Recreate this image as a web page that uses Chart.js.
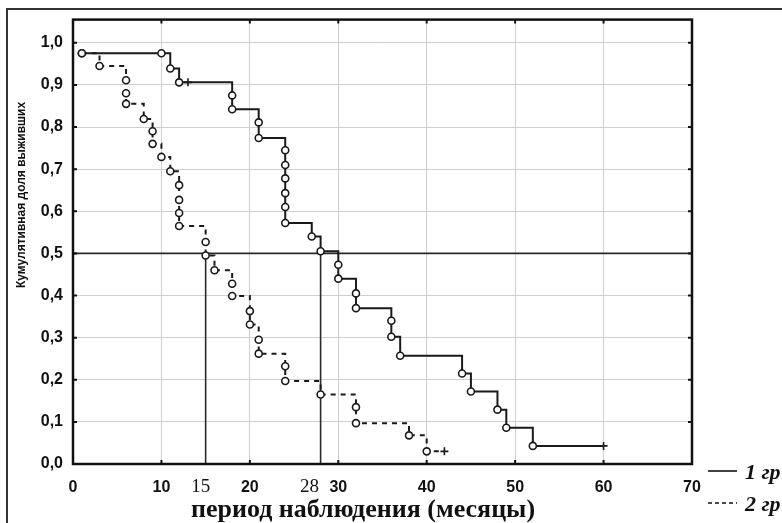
<!DOCTYPE html>
<html>
<head>
<meta charset="utf-8">
<script src="https://cdn.jsdelivr.net/npm/chart.js@4"></script>
<style>
  body { margin: 0; background: #fff; }
</style>
</head>
<body>
<canvas id="myChart" width="782" height="523"></canvas>
<script>
// группа 1 (сплошная линия)
const months1 = [1, 10, 11, 12, 13, 18, 18, 21, 21, 24, 24, 24, 24, 24, 24, 27, 28, 30, 30, 32, 32, 36, 36, 37, 44, 45, 48, 49, 52, 60]
const surv1 = [0.975, 0.975, 0.939, 0.906, 0.906, 0.875, 0.842, 0.811, 0.774, 0.745, 0.710, 0.678, 0.643, 0.610, 0.572, 0.540, 0.505, 0.473, 0.440, 0.405, 0.370, 0.340, 0.302, 0.257, 0.215, 0.172, 0.129, 0.086, 0.043, 0.043]
const cens1 = [0, 0, 0, 0, 1, 0, 0, 0, 0, 0, 0, 0, 0, 0, 0, 0, 0, 0, 0, 0, 0, 0, 0, 0, 0, 0, 0, 0, 0, 1]

// группа 2 (пунктир)
const months2 = [1, 3, 6, 6, 6, 8, 9, 9, 10, 11, 12, 12, 12, 12, 15, 15, 16, 18, 18, 20, 20, 21, 21, 24, 24, 28, 32, 32, 38, 40, 42]
const surv2 = [0.975, 0.945, 0.911, 0.880, 0.855, 0.819, 0.790, 0.760, 0.729, 0.695, 0.662, 0.627, 0.596, 0.565, 0.527, 0.495, 0.460, 0.428, 0.399, 0.363, 0.331, 0.295, 0.262, 0.232, 0.197, 0.165, 0.135, 0.097, 0.068, 0.030, 0.030]
const cens2 = [0, 0, 0, 0, 0, 0, 0, 0, 0, 0, 0, 0, 0, 0, 0, 0, 0, 0, 0, 0, 0, 0, 0, 0, 0, 0, 0, 0, 0, 0, 1]

// медианы
const medianLevel = 0.5
const medians = [15, 28]

const xTicks = [0, 10, 20, 30, 40, 50, 60, 70]
const yTicks = [0, 0.1, 0.2, 0.3, 0.4, 0.5, 0.6, 0.7, 0.8, 0.9, 1.0]
const legendLabels = ['1 гр', '2 гр']
const xTitle = 'период наблюдения (месяцы)'
const yTitle = 'Кумулятивная доля выживших'

const toPoints = (xs, ys) => xs.map((x, i) => ({ x: x, y: ys[i] }))

const curve = (xs, ys, cens, dash) => ({
  data: toPoints(xs, ys),
  stepped: 'before',
  borderColor: '#1a1a1a',
  borderWidth: 2,
  borderDash: dash,
  pointStyle: ctx => cens[ctx.dataIndex] ? 'cross' : 'circle',
  pointRadius: ctx => cens[ctx.dataIndex] ? 4 : 3.5,
  pointBorderWidth: 1.6,
  pointBorderColor: '#1a1a1a',
  pointBackgroundColor: '#fff',
  fill: false
})

const refLine = pts => ({
  data: pts,
  borderColor: '#2a2a2a',
  borderWidth: 1.6,
  pointRadius: 0,
  fill: false
})

const datasets = [
  curve(months1, surv1, cens1, []),
  curve(months2, surv2, cens2, [5, 5]),
  refLine([{ x: 0, y: medianLevel }, { x: 70, y: medianLevel }])
]
medians.forEach(m => datasets.push(refLine([{ x: m, y: 0 }, { x: m, y: medianLevel }])))

// рамка, внутренние засечки, подписи осей и легенда
const decor = {
  id: 'decor',
  afterDraw(chart) {
    const c = chart.ctx
    const a = chart.chartArea
    const xs = chart.scales.x
    const ys = chart.scales.y
    c.save()
    // внешняя рамка
    c.strokeStyle = '#333'
    c.lineWidth = 2
    c.strokeRect(7, 9, 800, 530)
    // рамка графика
    c.strokeStyle = '#111'
    c.lineWidth = 2.5
    c.strokeRect(a.left, a.top, a.right - a.left, a.bottom - a.top)
    // засечки
    c.lineWidth = 2
    xTicks.forEach(v => {
      const px = xs.getPixelForValue(v)
      c.beginPath()
      c.moveTo(px, a.bottom); c.lineTo(px, a.bottom - 4)
      c.moveTo(px, a.top); c.lineTo(px, a.top + 4)
      c.stroke()
    })
    yTicks.forEach(v => {
      const py = ys.getPixelForValue(v)
      c.beginPath()
      c.moveTo(a.left, py); c.lineTo(a.left + 4, py)
      c.moveTo(a.right, py); c.lineTo(a.right - 4, py)
      c.stroke()
    })
    c.fillStyle = '#111'
    // подписи медиан под осью
    c.font = '19px "Liberation Serif", serif'
    c.textAlign = 'center'
    c.textBaseline = 'middle'
    const shift = [-5, -11]
    medians.forEach((m, i) => {
      c.fillText(String(m), xs.getPixelForValue(m) + shift[i], 487)
    })
    // подпись оси X
    c.font = 'bold 26px "Liberation Serif", serif'
    c.textBaseline = 'alphabetic'
    c.fillText(xTitle, 363, 517)
    // подпись оси Y
    c.save()
    c.translate(25, 195)
    c.rotate(-Math.PI / 2)
    c.font = 'bold 12px "Liberation Sans", sans-serif'
    c.fillText(yTitle, 0, 0)
    c.restore()
    // легенда
    c.lineWidth = 1.6
    c.beginPath(); c.moveTo(708, 471); c.lineTo(737, 471); c.stroke()
    c.setLineDash([4, 3])
    c.beginPath(); c.moveTo(708, 503); c.lineTo(737, 503); c.stroke()
    c.setLineDash([])
    c.font = 'italic bold 22px "Liberation Serif", serif'
    c.textAlign = 'left'
    c.fillText(legendLabels[0], 745, 479)
    c.fillText(legendLabels[1], 745, 511)
    c.restore()
  }
}

const ctx = document.getElementById('myChart')

new Chart(ctx, {
  type: 'line',
  data: { datasets: datasets },
  plugins: [decor],
  options: {
    responsive: false,
    animation: false,
    layout: { padding: { left: 0, top: 17, right: 90, bottom: 0 } },
    plugins: { legend: { display: false }, tooltip: { enabled: false } },
    scales: {
      x: {
        type: 'linear',
        min: 0,
        max: 70,
        afterBuildTicks: s => { s.ticks = xTicks.map(v => ({ value: v })) },
        afterFit: s => { s.height = 59 },
        border: { display: false },
        grid: { drawTicks: false, color: '#cfcfcf', lineWidth: 1 },
        ticks: {
          padding: 14,
          color: '#111',
          maxRotation: 0,
          autoSkip: false,
          font: { family: '"Liberation Sans", sans-serif', size: 16, weight: 'bold' }
        }
      },
      y: {
        type: 'linear',
        min: 0,
        max: 1.055,
        afterBuildTicks: s => { s.ticks = yTicks.map(v => ({ value: v })) },
        afterFit: s => { s.width = 73 },
        border: { display: false },
        grid: { drawTicks: false, color: '#cfcfcf', lineWidth: 1 },
        ticks: {
          padding: 10,
          color: '#111',
          font: { family: '"Liberation Sans", sans-serif', size: 16, weight: 'bold' },
          callback: v => v.toFixed(1).replace('.', ',')
        }
      }
    }
  }
});
</script>
</body>
</html>
